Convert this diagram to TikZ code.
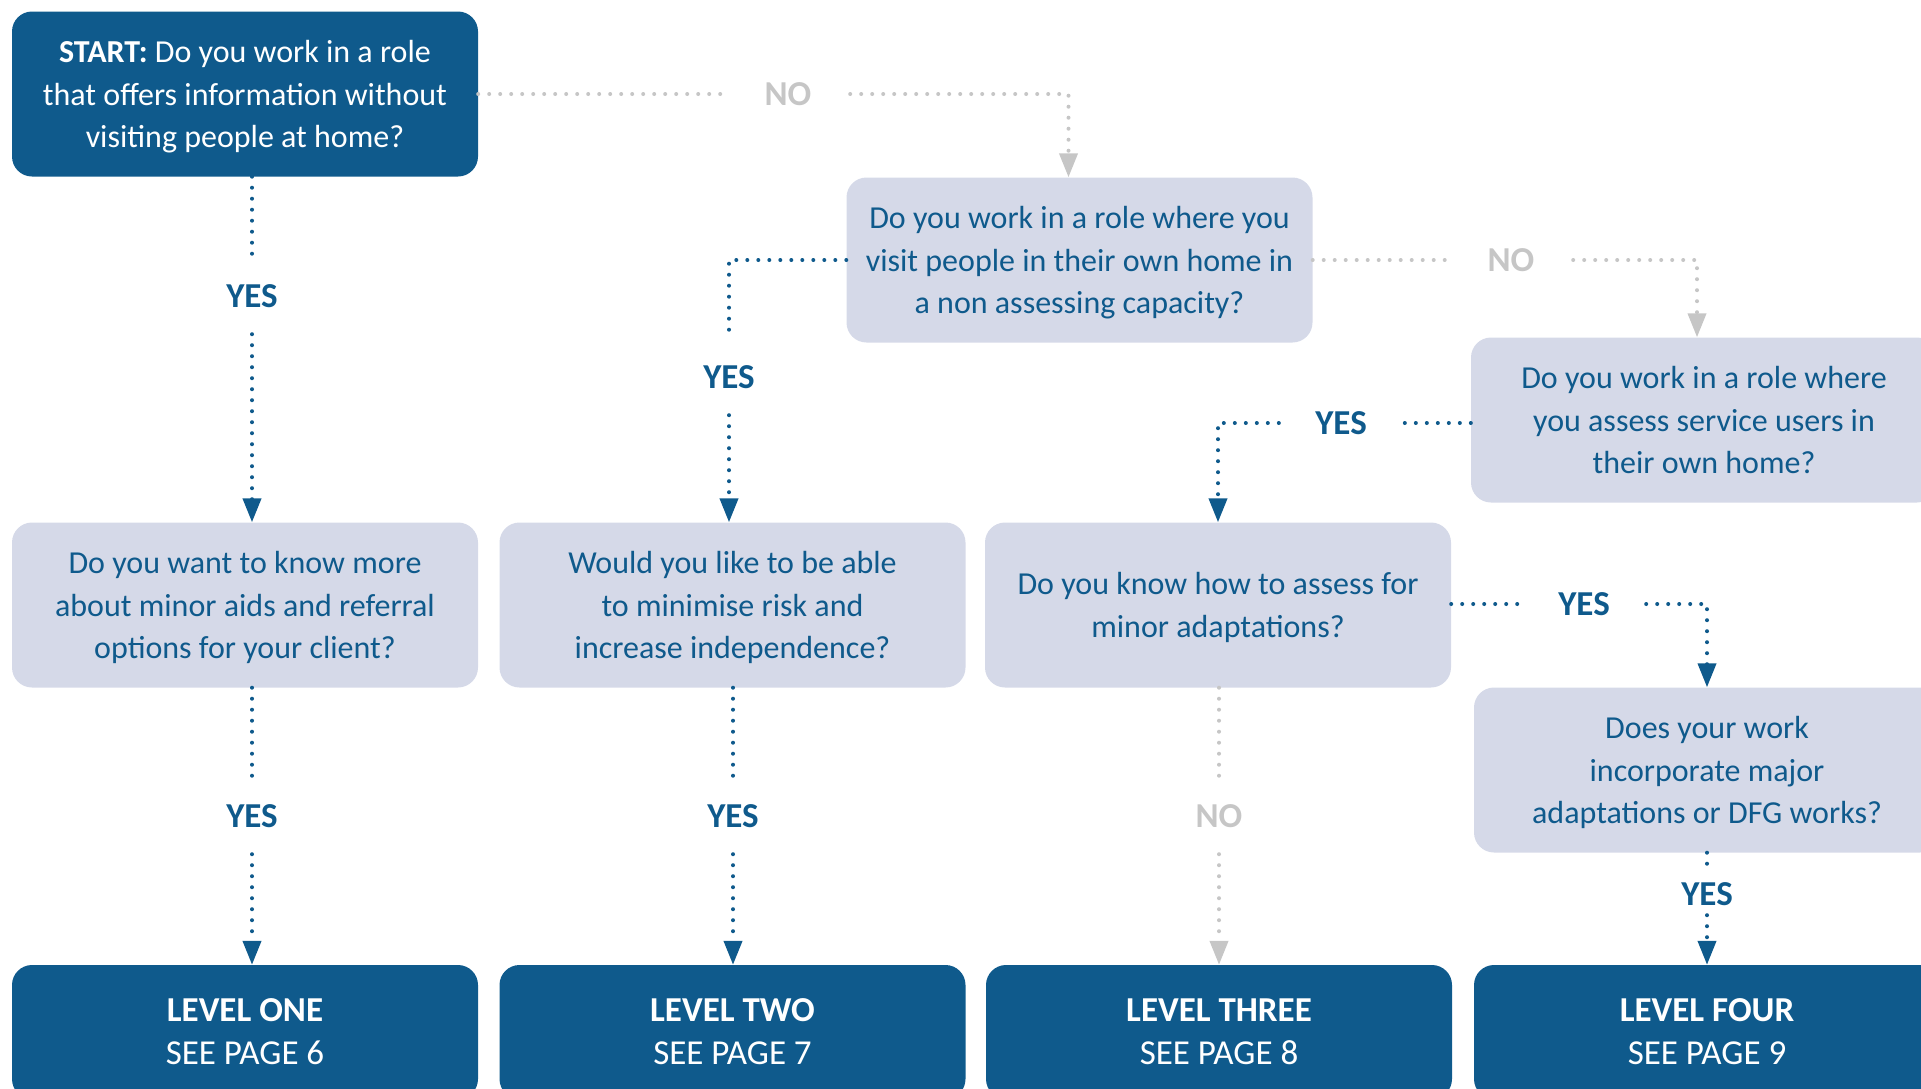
\documentclass[tikz,border=0pt]{standalone}
\usepackage{fontspec}
\setmainfont{Carlito}
\usetikzlibrary{arrows.meta}
\definecolor{dblue}{HTML}{0F5A8C}
\definecolor{lbox}{HTML}{D5D9E8}
\definecolor{lgray}{HTML}{C6C6C6}
\begin{document}
\begin{tikzpicture}[x=1pt,y=-1pt,
  box/.style={rectangle, rounded corners=20pt, minimum width=466pt, minimum height=165pt, align=center, inner sep=0pt, font=\fontsize{32}{42.5}\selectfont},
  darkbox/.style={box, fill=dblue, text=white},
  lightbox/.style={box, fill=lbox, text=dblue, text depth=-3pt},
  startbox/.style={darkbox, text depth=-3pt},
  endbox/.style={darkbox, minimum height=134pt, font=\fontsize{35}{43}\selectfont},
  lab/.style={font=\fontsize{35}{40}\selectfont\bfseries, inner sep=0pt},
  hlab/.style={lab, minimum width=124pt},
  vlab/.style={lab, minimum height=76pt},
  con/.style={line width=4pt, line cap=round, dash pattern=on 0pt off 11pt},
  yesc/.style={con, draw=dblue},
  noc/.style={con, draw=lgray},
  tipb/.style={-{Triangle[length=24pt,width=18pt,fill=dblue]}},
  tipg/.style={-{Triangle[length=24pt,width=18pt,fill=lgray]}}
]
\useasboundingbox (0,0) rectangle (1921,1088);
\clip (0,0) rectangle (1921,1088);

% boxes
\node[startbox] (start) at (245,94) {\textbf{START:} Do you work in a role\\that offers information without\\visiting people at home?};
\node[lightbox] (q2) at (1079.5,260) {Do you work in a role where you\\visit people in their own home in\\a non assessing capacity?};
\node[lightbox] (q3) at (1704,420) {Do you work in a role where\\you assess service users in\\their own home?};
\node[lightbox] (qa) at (245,605) {Do you want to know more\\about minor aids and referral\\options for your client?};
\node[lightbox] (qb) at (732.5,605) {Would you like to be able\\to minimise risk and\\increase independence?};
\node[lightbox] (qc) at (1218,605) {Do you know how to assess for\\minor adaptations?};
\node[lightbox] (q5) at (1707,770) {Does your work\\incorporate major\\adaptations or DFG works?};

\node[endbox] (l1) at (245,1032) {\textbf{LEVEL ONE}\\SEE PAGE 6};
\node[endbox] (l2) at (732.5,1032) {\textbf{LEVEL TWO}\\SEE PAGE 7};
\node[endbox] (l3) at (1219,1032) {\textbf{LEVEL THREE}\\SEE PAGE 8};
\node[endbox] (l4) at (1707,1032) {\textbf{LEVEL FOUR}\\SEE PAGE 9};

% labels
\node[vlab, text=dblue] (yes1) at (252,296) {YES};
\node[hlab, text=lgray] (no1) at (788,94) {NO};
\node[vlab, text=dblue] (yes2) at (729,377) {YES};
\node[hlab, text=lgray] (no2) at (1511,260) {NO};
\node[hlab, text=dblue] (yes3) at (1341,423) {YES};
\node[hlab, text=dblue] (yes4) at (1584,604) {YES};
\node[vlab, text=dblue] (yes5) at (252,816) {YES};
\node[vlab, text=dblue] (yes6) at (733,816) {YES};
\node[vlab, text=lgray] (no3) at (1219,816) {NO};
\node[lab, text=dblue, minimum height=42pt] (yes7) at (1707,894) {YES};

% connectors
\draw[yesc] ([xshift=7pt]start.south) -- (yes1.north);
\draw[yesc, tipb] (yes1.south) -- (yes1.south |- qa.north);

\draw[noc] (start.east |- no1.west) -- (no1.west);
\draw[noc, tipg] (no1.east) -| ([xshift=-11pt]q2.north);

\draw[yesc] (q2.west) -| (yes2.north);
\draw[yesc, tipb] (yes2.south) -- (yes2.south |- qb.north);

\draw[noc] (q2.east) -- (no2.west);
\draw[noc, tipg] (no2.east) -| ([xshift=-7pt]q3.north);

\draw[yesc] (q3.west |- yes3.east) -- (yes3.east);
\draw[yesc, tipb] (yes3.west) -| (qc.north);

\draw[yesc] (qc.east |- yes4.west) -- (yes4.west);
\draw[yesc, tipb] (yes4.east) -| (q5.north);

\draw[yesc] (yes5.north |- qa.south) -- (yes5.north);
\draw[yesc, tipb] (yes5.south) -- (yes5.south |- l1.north);

\draw[yesc] (yes6.north |- qb.south) -- (yes6.north);
\draw[yesc, tipb] (yes6.south) -- (yes6.south |- l2.north);

\draw[noc] (no3.north |- qc.south) -- (no3.north);
\draw[noc, tipg] (no3.south) -- (no3.south |- l3.north);

\draw[yesc] (yes7.north |- q5.south) -- (yes7.north);
\draw[yesc, tipb] (yes7.south) -- (yes7.south |- l4.north);
\end{tikzpicture}
\end{document}
